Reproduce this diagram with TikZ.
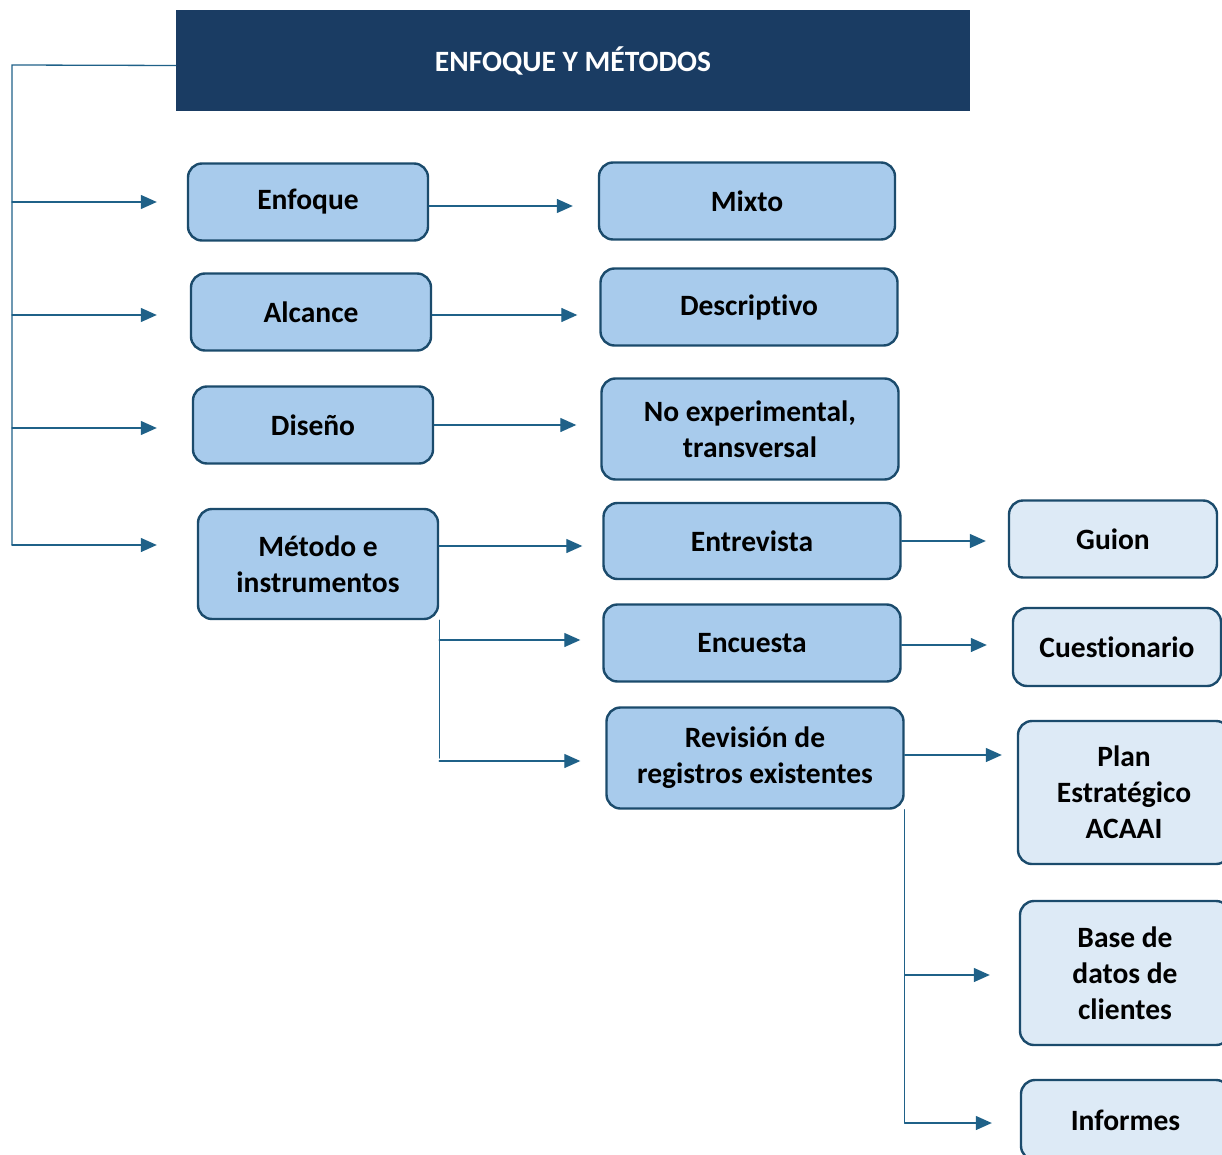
\documentclass[tikz,border=0pt]{standalone}
\usepackage{fontspec}
\setmainfont[Ligatures=NoCommon]{Carlito}
\usetikzlibrary{arrows.meta}
\definecolor{navy}{HTML}{1A3C63}
\definecolor{boxblue}{HTML}{A8CBEC}
\definecolor{paleblue}{HTML}{DDEAF6}
\definecolor{edgeblue}{HTML}{1B4B6C}
\definecolor{linkblue}{HTML}{1F6188}

\begin{document}
\begin{tikzpicture}[x=1pt, y=-1pt, >={Triangle[length=16pt,width=14pt]}, line cap=round,
  box/.style={draw=edgeblue, line width=2.4pt, rounded corners=14pt, fill=boxblue,
    align=center, inner sep=0pt, font=\bfseries\fontsize{29.5}{36}\selectfont},
  subbox/.style={box, fill=paleblue},
  link/.style={linkblue, line width=1.3pt}]

\useasboundingbox (0,0) rectangle (1222,1155);

% --- title ---
\node[fill=navy, text=white, minimum width=794pt, minimum height=101pt, inner sep=0pt,
  font=\bfseries\fontsize{29.5}{32}\selectfont] (title) at (573,60.5) {ENFOQUE Y MÉTODOS};

% --- first column ---
\node[box, minimum width=240pt, minimum height=77pt] (enfoque) at (308,202) {Enfoque};
\node[box, minimum width=240pt, minimum height=77pt] (alcance) at (311,312) {Alcance};
\node[box, minimum width=240pt, minimum height=77pt] (diseno) at (313,425) {Diseño};
\node[box, minimum width=240pt, minimum height=110pt] (metodo) at (318,564) {Método e\\instrumentos};

% --- second column ---
\node[box, minimum width=296pt, minimum height=77pt] (mixto) at (747,201) {Mixto};
\node[box, minimum width=297pt, minimum height=77pt] (descriptivo) at (749,307) {Descriptivo};
\node[box, minimum width=297pt, minimum height=101pt] (noexp) at (750,429) {No experimental,\\transversal};
\node[box, minimum width=297pt, minimum height=76pt] (entrevista) at (752,541) {Entrevista};
\node[box, minimum width=297pt, minimum height=77pt] (encuesta) at (752,643) {Encuesta};
\node[box, minimum width=297pt, minimum height=101pt] (revision) at (755,758) {Revisión de\\registros existentes};

% --- third column ---
\node[subbox, minimum width=208pt, minimum height=77pt] (guion) at (1113,539) {Guion};
\node[subbox, minimum width=208pt, minimum height=78pt] (cuestionario) at (1117,647) {Cuestionario};
\node[subbox, minimum width=212pt, minimum height=143pt] (plan) at (1124,792.5) {Plan\\Estratégico\\ACAAI};
\node[subbox, minimum width=210pt, minimum height=144pt] (base) at (1125,973) {Base de\\datos de\\clientes};
\node[subbox, minimum width=209pt, minimum height=80pt] (informes) at (1125.5,1120) {Informes};

% --- left trunk ---
\coordinate (root) at (12,65);
\coordinate (trunkend) at (12,545);
\draw[link] ([yshift=-5pt]title.west) -- (root) -- (trunkend);
\draw[link,->,shorten >=30pt] (root |- enfoque) -- (enfoque.west);
\draw[link,->,shorten >=33pt] ([yshift=-3pt]root |- alcance) -- ([yshift=-3pt]alcance.west);
\draw[link,->,shorten >=35pt] ([yshift=-3pt]root |- diseno) -- ([yshift=-3pt]diseno.west);
\draw[link,->,shorten >=40pt] (trunkend) -- (trunkend -| metodo.west);

% --- first to second column ---
\draw[link,->,shorten >=25pt] ([yshift=-4pt]enfoque.east) -- ([yshift=-4pt]enfoque.east -| mixto.west);
\draw[link,->,shorten >=22pt] ([yshift=-3pt]alcance.east) -- ([yshift=-3pt]alcance.east -| descriptivo.west);
\draw[link,->,shorten >=24pt] (diseno.east) -- (diseno.east -| noexp.west);
\draw[link,->,shorten >=20pt] ([yshift=-5pt]metodo.east |- entrevista) -- ([yshift=-5pt]entrevista.west);
\draw[link] (metodo.south east) -- (metodo.south east |- revision);
\draw[link,->,shorten >=22pt] ([yshift=3pt]metodo.south east |- encuesta) -- ([yshift=3pt]encuesta.west);
\draw[link,->,shorten >=25pt] ([yshift=-3pt]metodo.south east |- revision) -- ([yshift=-3pt]revision.west);

% --- second to third column ---
\draw[link,->,shorten >=22pt] (entrevista.east) -- (entrevista.east -| guion.west);
\draw[link,->,shorten >=25pt] ([yshift=-2pt]encuesta.east) -- ([yshift=-2pt]encuesta.east -| cuestionario.west);
\draw[link,->,shorten >=15pt] ([yshift=3pt]revision.east) -- ([yshift=3pt]revision.east -| plan.west);
\draw[link] (revision.south east) -- ([yshift=-3pt]revision.south east |- informes);
\draw[link,->,shorten >=29pt] ([yshift=-2pt]revision.south east |- base) -- ([yshift=-2pt]base.west);
\draw[link,->,shorten >=28pt] ([yshift=-3pt]revision.south east |- informes) -- ([yshift=-3pt]informes.west);

\end{tikzpicture}
\end{document}
